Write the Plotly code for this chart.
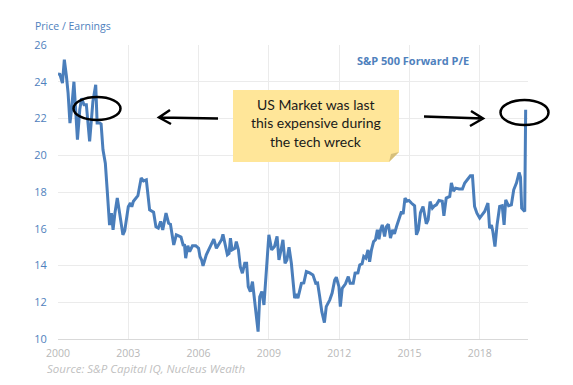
import plotly.graph_objects as go

# ---- data (decimal year, forward P/E) ----
years = [
    2000.00, 2000.08, 2000.19, 2000.27, 2000.36, 2000.43, 2000.51, 2000.58, 2000.68, 2000.73,
    2000.83, 2000.93, 2001.01, 2001.11, 2001.21, 2001.35, 2001.43, 2001.49, 2001.61, 2001.67,
    2001.78, 2001.84, 2001.92, 2002.02, 2002.10, 2002.20, 2002.28, 2002.35, 2002.43, 2002.53,
    2002.63, 2002.77, 2002.85, 2003.00, 2003.09, 2003.15, 2003.22, 2003.41, 2003.55, 2003.65,
    2003.77, 2003.91, 2004.08, 2004.18, 2004.28, 2004.38, 2004.47, 2004.61, 2004.72, 2004.80,
    2004.94, 2005.05, 2005.17, 2005.25, 2005.34, 2005.40, 2005.45, 2005.54, 2005.62, 2005.74,
    2005.88, 2006.00, 2006.06, 2006.13, 2006.19, 2006.33, 2006.43, 2006.55, 2006.65, 2006.76,
    2006.88, 2006.98, 2007.04, 2007.16, 2007.23, 2007.30, 2007.36, 2007.43, 2007.55, 2007.61,
    2007.70, 2007.78, 2007.87, 2007.97, 2008.05, 2008.12, 2008.21, 2008.30, 2008.38, 2008.47,
    2008.54, 2008.61, 2008.70, 2008.79, 2008.90, 2009.00, 2009.12, 2009.24, 2009.35, 2009.43,
    2009.52, 2009.60, 2009.69, 2009.77, 2009.86, 2009.96, 2010.10, 2010.17, 2010.24, 2010.39,
    2010.49, 2010.60, 2010.74, 2010.88, 2011.00, 2011.08, 2011.17, 2011.26, 2011.37, 2011.45,
    2011.60, 2011.70, 2011.81, 2011.88, 2011.99, 2012.05, 2012.13, 2012.27, 2012.39, 2012.47,
    2012.60, 2012.68, 2012.80, 2012.88, 2012.98, 2013.05, 2013.14, 2013.23, 2013.30, 2013.38,
    2013.47, 2013.55, 2013.63, 2013.70, 2013.77, 2013.84, 2013.94, 2014.01, 2014.10, 2014.19,
    2014.28, 2014.36, 2014.45, 2014.57, 2014.66, 2014.73, 2014.81, 2014.90, 2014.98, 2015.08,
    2015.22, 2015.30, 2015.38, 2015.47, 2015.58, 2015.72, 2015.80, 2015.88, 2015.98, 2016.07,
    2016.15, 2016.26, 2016.40, 2016.47, 2016.57, 2016.72, 2016.79, 2016.88, 2016.97, 2017.12,
    2017.26, 2017.36, 2017.48, 2017.60, 2017.69, 2017.78, 2017.88, 2018.00, 2018.10, 2018.21,
    2018.35, 2018.42, 2018.50, 2018.56, 2018.65, 2018.74, 2018.85, 2018.96, 2019.04, 2019.11,
    2019.23, 2019.35, 2019.45, 2019.57, 2019.68, 2019.74, 2019.79, 2019.92, 2019.96,
]
pe_values = [
    24.42, 24.40, 23.93, 25.20, 24.30, 23.40, 21.75, 22.50, 24.00, 22.85,
    20.85, 22.50, 23.10, 22.75, 22.75, 20.75, 22.30, 22.93, 23.84, 21.75,
    21.75, 21.70, 20.30, 19.57, 18.10, 16.20, 16.85, 15.94, 16.85, 17.67,
    16.85, 15.67, 15.90, 17.20, 17.40, 17.20, 17.50, 17.80, 18.76, 18.60,
    18.66, 17.03, 16.90, 16.10, 16.03, 16.40, 15.94, 16.85, 16.30, 16.25,
    15.12, 15.67, 15.60, 15.55, 15.12, 15.10, 14.40, 15.07, 14.76, 15.07,
    15.07, 14.94, 14.49, 14.30, 13.98, 14.58, 14.85, 15.22, 15.43, 14.94,
    15.20, 15.40, 15.70, 15.03, 14.58, 14.65, 15.49, 14.85, 14.94, 15.30,
    14.85, 13.94, 13.58, 14.12, 14.12, 12.85, 12.58, 13.12, 12.30, 11.40,
    10.40, 12.30, 12.58, 11.85, 14.12, 15.67, 14.85, 15.03, 15.58, 14.30,
    14.85, 15.40, 14.12, 14.30, 15.00, 14.12, 12.22, 12.45, 12.22, 13.03,
    13.05, 13.67, 13.60, 13.49, 13.03, 13.05, 12.30, 11.49, 10.89, 11.76,
    12.13, 12.50, 13.21, 13.36, 12.85, 11.76, 12.76, 13.00, 13.40, 13.03,
    13.03, 13.58, 13.60, 14.03, 14.10, 14.49, 14.40, 14.85, 14.20, 14.85,
    15.30, 15.40, 15.94, 15.43, 15.94, 16.21, 15.58, 16.10, 16.25, 15.49,
    15.94, 15.72, 16.12, 16.60, 16.94, 16.80, 17.67, 17.50, 17.54, 17.40,
    17.25, 15.67, 15.94, 16.88, 17.21, 16.27, 16.50, 17.48, 17.12, 17.25,
    17.30, 17.54, 17.50, 16.70, 17.67, 17.76, 18.49, 18.05, 18.21, 18.16,
    18.16, 18.49, 18.70, 18.88, 18.88, 17.21, 16.85, 16.58, 16.75, 16.94,
    17.40, 16.03, 16.20, 15.85, 15.03, 16.21, 17.21, 17.25, 16.21, 17.57,
    17.25, 17.30, 18.12, 18.50, 19.06, 18.80, 17.12, 16.94, 22.48,
]
x_tick_vals = [2000, 2003, 2006, 2009, 2012, 2015, 2018]
x_tick_text = ["2000", "2003", "2006", "2009", "2012", "2015", "2018"]
y_tick_vals = [10, 12, 14, 16, 18, 20, 22, 24, 26]

series_name = "S&P 500 Forward P/E"
y_title = "Price / Earnings"
note_lines = ["US Market was last", "this expensive during", "the tech wreck"]
source_text = "Source: S&P Capital IQ, Nucleus Wealth"

# ---- layout geometry (screen pixels; page body has an 8px margin) ----
OFF = 8
W, H = 573 - 2 * OFF, 385 - 2 * OFF
PX0, PX1, PY0, PY1 = 58, 528, 45, 339   # plot area on screen
L, T = PX0 - OFF, PY0 - OFF
R, B = W - (PX1 - OFF), H - (PY1 - OFF)
PW, PH = PX1 - PX0, PY1 - PY0


def px(x):
    return (x - PX0) / PW


def py(y):
    return (PY1 - y) / PH


BLUE = "#4a7ebb"
fig = go.Figure()
fig.add_trace(go.Scatter(x=years, y=pe_values, mode="lines",
                         line=dict(color=BLUE, width=3), name=series_name,
                         showlegend=False, hoverinfo="x+y"))

shapes = []
# sticky note with folded corner
nx0, nx1, ny0, ny1, f = 233, 399, 90, 162, 10
shapes.append(dict(type="path", xref="paper", yref="paper", layer="above",
                   path=f"M {px(nx0)},{py(ny0)} L {px(nx1)},{py(ny0)} L {px(nx1)},{py(ny1 - f)} "
                        f"L {px(nx1 - f)},{py(ny1)} L {px(nx0)},{py(ny1)} Z",
                   fillcolor="#ffe699", line=dict(width=0)))
shapes.append(dict(type="path", xref="paper", yref="paper", layer="above",
                   path=f"M {px(nx1)},{py(ny1 - f)} L {px(nx1 - f)},{py(ny1)} L {px(nx1 - f + 2)},{py(ny1 - f + 2)} Z",
                   fillcolor="#d6bf7c", line=dict(width=0)))
# ellipses
for cx, cy, rx, ry in [(97, 108.5, 23.5, 11.5), (524.5, 112.5, 24, 12.5)]:
    shapes.append(dict(type="circle", xref="paper", yref="paper", layer="above",
                       x0=px(cx - rx), x1=px(cx + rx), y0=py(cy + ry), y1=py(cy - ry),
                       line=dict(color="black", width=2.5)))
# arrows (hand drawn style)
shapes.append(dict(type="path", xref="paper", yref="paper", layer="above",
                   path=f"M {px(218)},{py(118.5)} L {px(159)},{py(117.5)} "
                        f"M {px(170)},{py(110)} L {px(159)},{py(117.5)} L {px(171)},{py(124)}",
                   line=dict(color="black", width=2.5)))
shapes.append(dict(type="path", xref="paper", yref="paper", layer="above",
                   path=f"M {px(424)},{py(116.5)} L {px(483)},{py(118.5)} "
                        f"M {px(471)},{py(111)} L {px(483)},{py(118.5)} L {px(470)},{py(126)}",
                   line=dict(color="black", width=2.5)))

annotations = []
for i, t in enumerate(note_lines):
    annotations.append(dict(text=t, xref="paper", yref="paper", x=px(316), y=py(104 + i * 18.5),
                            xanchor="center", yanchor="middle", showarrow=False,
                            font=dict(family="Lato", size=14, color="#1a1a1a")))
annotations.append(dict(text=series_name, xref="paper", yref="paper", x=px(412.5), y=py(61),
                        xanchor="center", yanchor="middle", showarrow=False,
                        font=dict(family="Open Sans", size=11, color="#4f81bd", weight="bold")))
annotations.append(dict(text=y_title, xref="paper", yref="paper", x=px(33), y=py(26),
                        xanchor="left", yanchor="middle", showarrow=False,
                        font=dict(family="Open Sans", size=10.5, color="#4f81bd")))
annotations.append(dict(text="<i>" + source_text + "</i>", xref="paper", yref="paper", x=px(45), y=py(369),
                        xanchor="left", yanchor="middle", showarrow=False,
                        font=dict(family="Open Sans", size=11.5, color="#bfbfbf")))

fig.update_layout(
    width=W, height=H, margin=dict(l=L, r=R, t=T, b=B),
    paper_bgcolor="white", plot_bgcolor="white",
    shapes=shapes, annotations=annotations, showlegend=False,
    xaxis=dict(range=[2000, 2020.06], tickvals=x_tick_vals, ticktext=x_tick_text,
               showgrid=True, gridcolor="#ebebeb", gridwidth=1, zeroline=False,
               showline=True, linecolor="#d9d9d9", linewidth=1,
               ticks="outside", ticklen=4, tickcolor="rgba(0,0,0,0)",
               tickfont=dict(family="Open Sans", size=10.5, color="#b8b8b8")),
    yaxis=dict(range=[10, 26], tickvals=y_tick_vals,
               showgrid=True, gridcolor="#ebebeb", gridwidth=1, zeroline=False,
               showline=False, ticks="outside", ticklen=8, tickcolor="rgba(0,0,0,0)",
               tickfont=dict(family="Open Sans", size=11, color="#4f81bd")),
)

fig.write_html("out.html")
